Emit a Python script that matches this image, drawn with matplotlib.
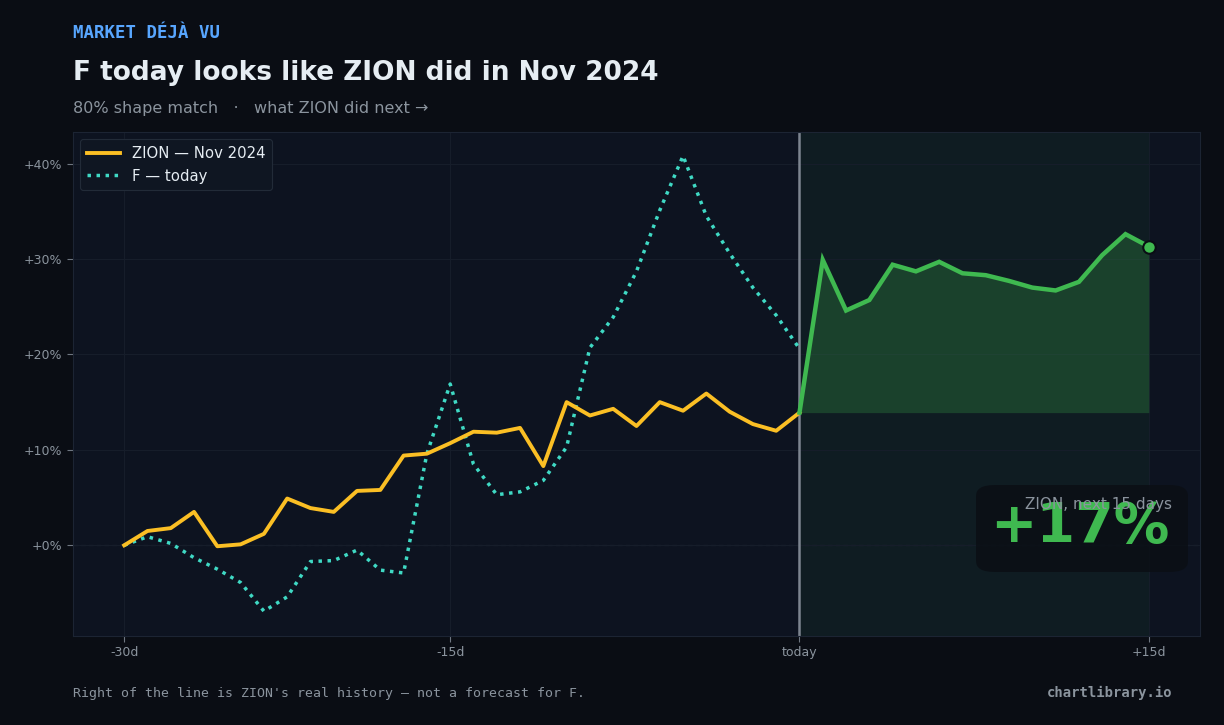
import matplotlib.pyplot as plt
from matplotlib.patches import FancyBboxPatch

# day index: 0 = 30 days ago, 29 = today, 44 = +15d
zion_past = [0.0, 1.5, 1.8, 3.5, -0.1, 0.1, 1.2, 4.9, 3.9, 3.5,
             5.7, 5.8, 9.4, 9.6, 10.7, 11.9, 11.8, 12.3, 8.3, 15.0,
             13.6, 14.3, 12.5, 15.0, 14.1, 15.9, 14.0, 12.7, 12.0, 13.9]
f_today = [0.0, 0.9, 0.2, -1.3, -2.5, -3.9, -6.9, -5.4, -1.7, -1.6,
           -0.5, -2.6, -2.9, 9.6, 16.9, 8.5, 5.3, 5.6, 6.8, 10.3,
           20.7, 23.9, 28.7, 35.1, 40.8, 34.5, 30.6, 27.0, 24.1, 20.6]
zion_next = [13.9, 29.9, 24.6, 25.7, 29.4, 28.7, 29.7, 28.5, 28.3, 27.7,
             27.0, 26.7, 27.6, 30.4, 32.6, 31.3]
tick_pos = [0, 14, 29, 44]
tick_labels = ["-30d", "-15d", "today", "+15d"]
y_ticks = [0, 10, 20, 30, 40]

BG = "#0a0d14"
AX_BG = "#0d1320"
GRID = "#161d2a"
MUTED = "#8b949e"
TEXT = "#e6edf3"
AMBER = "#fbbf24"
TEAL = "#3fd9c4"
GREEN = "#3fb950"

past_x = list(range(len(zion_past)))
today = past_x[-1]
next_x = list(range(today, today + len(zion_next)))

fig = plt.figure(figsize=(12.24, 7.25), dpi=100, facecolor=BG)
ax = fig.add_axes([0.0596, 0.1228, 0.9208, 0.6951])
ax.set_facecolor(AX_BG)

ax.axvspan(today, next_x[-1], color=GREEN, alpha=0.06, lw=0, zorder=0)
ax.fill_between(next_x, zion_next[0], zion_next, color=GREEN, alpha=0.24, lw=0, zorder=2)
ax.axhline(0, color="#3a4352", lw=0.8, ls=(0, (4, 3)), zorder=1)
ax.axvline(today, color="#7d8590", lw=1.8, zorder=2)

ax.plot(past_x, zion_past, color=AMBER, lw=2.8, label="ZION — Nov 2024", zorder=4)
ax.plot(past_x, f_today, color=TEAL, lw=2.5, ls=(0, (1, 1.6)), label="F — today", zorder=3)
ax.plot(next_x, zion_next, color=GREEN, lw=3.2, zorder=5, solid_joinstyle="miter")
ax.plot(next_x[-1], zion_next[-1], "o", color=GREEN, ms=9, mec=BG, mew=1.5, zorder=6)

ax.set_xlim(-2.2, 46.2)
ax.set_ylim(-9.5, 43.3)
ax.set_xticks(tick_pos)
ax.set_xticklabels(tick_labels)
ax.set_yticks(y_ticks)
ax.set_yticklabels([f"+{v}%" for v in y_ticks])
ax.tick_params(colors=MUTED, labelsize=9, length=4, color="#6e7681")
ax.grid(True, color=GRID, lw=0.8, zorder=0)
for s in ax.spines.values():
    s.set_color("#1c2433")

leg = ax.legend(loc="upper left", fontsize=10.7, facecolor="#0f1622", edgecolor="#222b38",
                labelcolor=TEXT, framealpha=1.0, handlelength=2.2, borderpad=0.45)
leg.get_frame().set_linewidth(0.8)

# result badge
box = FancyBboxPatch((976 / 1224, 1 - 572 / 725), 212 / 1224, 87 / 725,
                     boxstyle="round,pad=0,rounding_size=0.015", transform=fig.transFigure,
                     facecolor="#0b0f15", edgecolor="none", alpha=0.85, zorder=7)
fig.patches.append(box)
fig.text(1172 / 1224, 1 - 505 / 725, "ZION, next 15 days", ha="right", va="center",
         fontsize=11, color=MUTED, zorder=9)
gain = round(zion_next[-1] - zion_next[0])
fig.text(1170 / 1224, 1 - 527 / 725, f"+{gain}%", ha="right", va="center",
         fontsize=40, fontweight="bold", color=GREEN, zorder=8)

fig.text(73 / 1224, 1 - 33 / 725, "MARKET DÉJÀ VU", fontsize=12.5, fontweight="bold",
         family="DejaVu Sans Mono", color="#58a6ff", va="center")
fig.text(73 / 1224, 1 - 73 / 725, "F today looks like ZION did in Nov 2024", fontsize=19,
         fontweight="bold", color=TEXT, va="center")
fig.text(73 / 1224, 1 - 109 / 725, "80% shape match   ·   what ZION did next →", fontsize=11.5,
         color=MUTED, va="center")
fig.text(73 / 1224, 1 - 693 / 725, "Right of the line is ZION's real history — not a forecast for F.",
         fontsize=9.5, family="DejaVu Sans Mono", color=MUTED, va="center")
fig.text(1173 / 1224, 1 - 693 / 725, "chartlibrary.io", fontsize=10, fontweight="bold",
         family="DejaVu Sans Mono", color=MUTED, ha="right", va="center")

fig.savefig("out.png", facecolor=BG)
